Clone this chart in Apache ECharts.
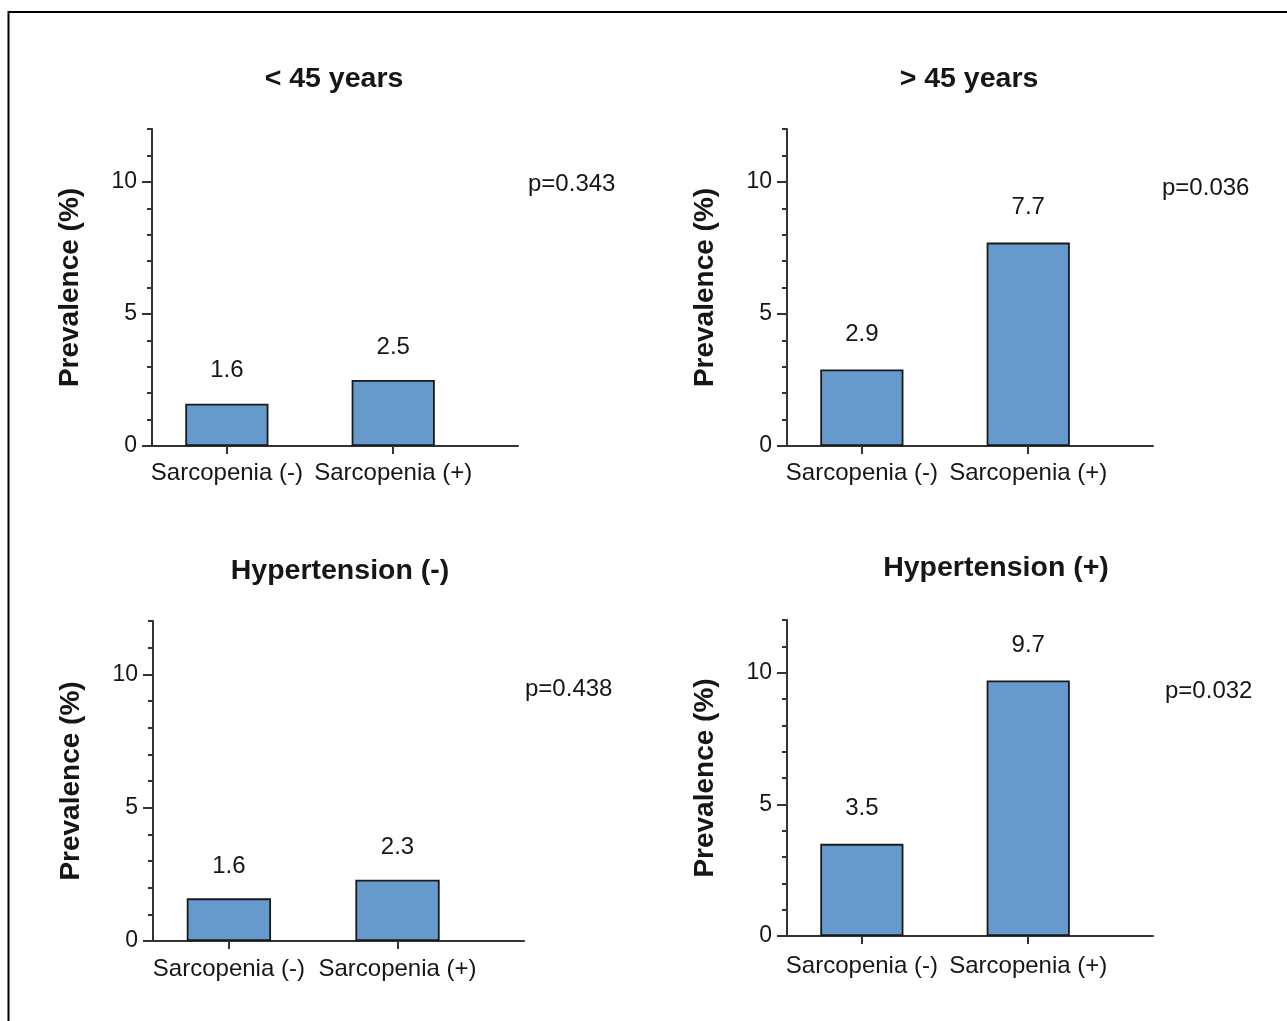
<!DOCTYPE html>
<html><head><meta charset="utf-8">
<script src="https://cdn.jsdelivr.net/npm/echarts@6/dist/echarts.min.js"></script>
<style>html,body{margin:0;padding:0;background:#fff}#c{width:1287px;height:1021px}</style>
</head><body><div id="c"></div>
<script>
// ---- data ----
const categories = ['Sarcopenia (-)', 'Sarcopenia (+)'];
const panelTitles = ['< 45 years', '> 45 years', 'Hypertension (-)', 'Hypertension (+)'];
const valuesLt45 = [1.6, 2.5];
const valuesGt45 = [2.9, 7.7];
const valuesHtnNeg = [1.6, 2.3];
const valuesHtnPos = [3.5, 9.7];
const pValues = ['p=0.343', 'p=0.036', 'p=0.438', 'p=0.032'];
const yTickLabels = [0, 5, 10];
const yName = 'Prevalence (%)';
const yMax = 12;

// ---- layout ----
const FONT = "'Liberation Sans', Arial, sans-serif";
const TXT = '#161616';
const AXC = '#333333';
const X_MIN = 0.55, X_MAX = 2.75;
const layout = [
  {left:152, top:129, width:366, height:317, titleX:334, titleY:79, pX:528, pY:184, labelDist:21, xMargin:15},
  {left:787, top:129, width:366, height:317, titleX:969, titleY:79, pX:1162, pY:188, labelDist:23, xMargin:15},
  {left:153, top:621, width:371, height:320, titleX:340, titleY:571, pX:525, pY:689, labelDist:20, xMargin:16},
  {left:787, top:620, width:366, height:316, titleX:996, titleY:568, pX:1165, pY:691, labelDist:23, xMargin:18}
];
const seriesValues = [valuesLt45, valuesGt45, valuesHtnNeg, valuesHtnPos];

const grid = [], xAxis = [], yAxis = [], series = [], graphic = [];
graphic.push({type:'rect', shape:{x:8.5, y:12, width:1400, height:1100},
  style:{fill:'none', stroke:'#000', lineWidth:2}, silent:true});

layout.forEach((L, i) => {
  grid.push({left:L.left, top:L.top, width:L.width, height:L.height, outerBoundsMode:'none', containLabel:false});
  xAxis.push({
    type:'value', gridIndex:i, min:X_MIN, max:X_MAX,
    splitLine:{show:false},
    axisLine:{show:true, onZero:false, lineStyle:{color:AXC, width:2}},
    axisTick:{show:true, length:8, customValues:[1,2], lineStyle:{color:AXC, width:2}},
    axisLabel:{show:true, customValues:[1,2], margin:L.xMargin, fontSize:24, color:TXT, fontFamily:FONT,
      formatter: v => categories[Math.round(v) - 1] || ''}
  });
  yAxis.push({
    type:'value', gridIndex:i, position:'left', min:0, max:yMax, interval:5,
    splitLine:{show:false},
    axisLine:{show:true, lineStyle:{color:AXC, width:2}},
    axisTick:{show:true, length:10, customValues:yTickLabels, lineStyle:{color:AXC, width:2}},
    axisLabel:{show:true, customValues:yTickLabels, margin:15, fontSize:23, color:TXT, fontFamily:FONT},
    name:yName, nameLocation:'middle', nameGap:68,
    nameTextStyle:{fontSize:28, fontWeight:'bold', color:TXT, fontFamily:FONT}
  });
  yAxis.push({
    type:'value', gridIndex:i, position:'left', min:0, max:yMax, interval:1,
    splitLine:{show:false},
    axisLine:{show:false},
    axisTick:{show:true, length:5, lineStyle:{color:AXC, width:2}},
    axisLabel:{show:false}
  });
  const vals = seriesValues[i];
  series.push({
    type:'bar', xAxisIndex:i, yAxisIndex:2*i,
    data: vals.map((v, k) => [k + 1, v]),
    barWidth: L.width / (X_MAX - X_MIN) * 0.5,
    itemStyle:{color:'#6699CC', borderColor:'#1a1a1a', borderWidth:1.8},
    label:{show:true, position:'top', distance:L.labelDist, fontSize:24, color:TXT, fontFamily:FONT,
      formatter: p => p.value[1].toFixed(1)},
    silent:true, animation:false
  });
  graphic.push({type:'text', x:L.titleX, y:L.titleY, silent:true,
    style:{text:panelTitles[i], font:'bold 28.5px ' + FONT, fill:TXT, textAlign:'center', textVerticalAlign:'middle'}});
  graphic.push({type:'text', x:L.pX, y:L.pY, silent:true,
    style:{text:pValues[i], font:'24px ' + FONT, fill:TXT, textAlign:'left', textVerticalAlign:'middle'}});
});

const chart = echarts.init(document.getElementById('c'), null, {renderer:'canvas'});
chart.setOption({backgroundColor:'#ffffff', animation:false, grid, xAxis, yAxis, series, graphic});
</script></body></html>
